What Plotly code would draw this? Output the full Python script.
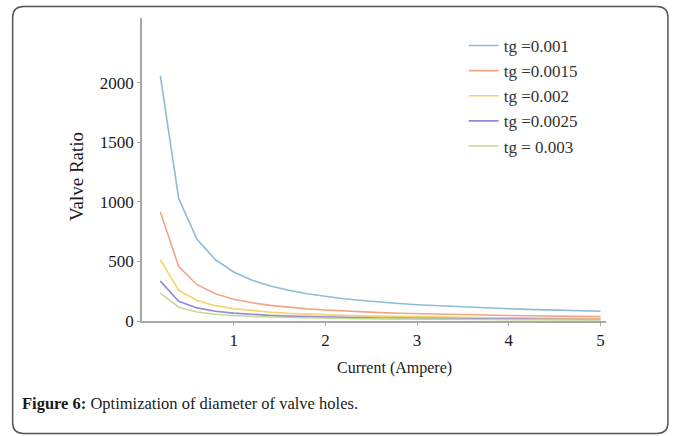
import plotly.graph_objects as go

current = [0.2, 0.4, 0.6, 0.8, 1.0, 1.2, 1.4, 1.6, 1.8, 2.0, 2.2, 2.4, 2.6, 2.8, 3.0,
           3.2, 3.4, 3.6, 3.8, 4.0, 4.2, 4.4, 4.6, 4.8, 5.0]

tg_0010 = [2060, 1030, 687, 515, 412, 343, 294, 258, 229, 206, 187, 172, 158, 147, 137,
           129, 121, 114, 108, 103, 98, 94, 90, 86, 82]
tg_0015 = [915, 458, 305, 229, 183, 153, 131, 114, 102, 92, 83, 76, 70, 65, 61,
           57, 54, 51, 48, 46, 44, 42, 40, 38, 37]
tg_0020 = [515, 258, 172, 129, 103, 86, 74, 64, 57, 52, 47, 43, 40, 37, 34,
           32, 30, 29, 27, 26, 25, 23, 22, 21, 21]
tg_0025 = [335, 166, 110, 82, 66, 55, 47, 41, 37, 33, 30, 27, 25, 24, 22,
           21, 19, 18, 17, 16, 16, 15, 14, 14, 13]
tg_0030 = [235, 116, 76, 57, 46, 38, 33, 29, 25, 23, 21, 19, 18, 16, 15,
           14, 13, 13, 12, 11, 11, 10, 10, 10, 9]

series_names = ["tg =0.001", "tg =0.0015", "tg =0.002", "tg =0.0025", "tg = 0.003"]
series_values = [tg_0010, tg_0015, tg_0020, tg_0025, tg_0030]
series_colors = ["#8ebcd4", "#f2a584", "#f6d36a", "#9588d6", "#c2da92"]

y_ticks = [0, 500, 1000, 1500, 2000]
x_ticks = [1, 2, 3, 4, 5]

SERIF = "Liberation Serif"

fig = go.Figure()
for name, vals, col in zip(series_names, series_values, series_colors):
    fig.add_trace(go.Scatter(x=current, y=vals, mode="lines", name=name,
                             line=dict(color=col, width=1.6)))

# plot area in pixels
W, H = 673, 436
L, R, T, B = 142, 606.5, 18, 321
pw, ph = R - L, B - T


def px(x):
    return (x - L) / pw


def py(y):
    return (B - y) / ph


# rounded border
x0, x1, y0, y1, r = 12.5, 668.5, 6.5, 433.5, 11
path = (f"M {px(x0 + r)} {py(y0)} L {px(x1 - r)} {py(y0)} "
        f"Q {px(x1)} {py(y0)} {px(x1)} {py(y0 + r)} "
        f"L {px(x1)} {py(y1 - r)} Q {px(x1)} {py(y1)} {px(x1 - r)} {py(y1)} "
        f"L {px(x0 + r)} {py(y1)} Q {px(x0)} {py(y1)} {px(x0)} {py(y1 - r)} "
        f"L {px(x0)} {py(y0 + r)} Q {px(x0)} {py(y0)} {px(x0 + r)} {py(y0)} Z")

fig.update_layout(
    width=W, height=H,
    margin=dict(l=L, r=W - R, t=T, b=H - B, pad=0),
    paper_bgcolor="white", plot_bgcolor="white",
    font=dict(family=SERIF, color="#222222"),
    showlegend=True,
    legend=dict(x=px(464), y=py(28), xanchor="left", yanchor="top",
                font=dict(family=SERIF, size=17, color="#333333"),
                bgcolor="rgba(0,0,0,0)", itemwidth=30, tracegroupgap=0),
    xaxis=dict(range=[0, 5.06], tickvals=x_ticks, ticktext=[str(v) for v in x_ticks],
               showgrid=False, zeroline=False, showline=True, linecolor="#a8a8a8",
               linewidth=1.5, ticks="outside", ticklen=3, tickcolor="#a8a8a8",
               tickfont=dict(family=SERIF, size=17, color="#1a1a1a")),
    yaxis=dict(range=[0, 2546], tickvals=y_ticks, ticktext=[str(v) for v in y_ticks],
               showgrid=False, zeroline=False, showline=True, linecolor="#a8a8a8",
               linewidth=1.5, ticks="outside", ticklen=3, tickcolor="#a8a8a8",
               tickfont=dict(family=SERIF, size=17, color="#1a1a1a")),
    shapes=[dict(type="path", xref="paper", yref="paper", path=path,
                 line=dict(color="#555555", width=1.5), fillcolor="rgba(0,0,0,0)",
                 layer="above")],
    annotations=[
        dict(text="Current (Ampere)", xref="paper", yref="paper", x=px(395), y=py(368),
             xanchor="center", yanchor="middle", showarrow=False,
             font=dict(family=SERIF, size=16, color="#1a1a1a")),
        dict(text="Valve Ratio", xref="paper", yref="paper", x=px(76), y=py(177),
             xanchor="center", yanchor="middle", showarrow=False, textangle=-90,
             font=dict(family=SERIF, size=19, color="#1a1a1a")),
        dict(text="<b>Figure 6:</b> Optimization of diameter of valve holes.",
             xref="paper", yref="paper", x=px(20), y=py(403),
             xanchor="left", yanchor="middle", showarrow=False,
             font=dict(family=SERIF, size=16.5, color="#1a1a1a")),
    ],
)

fig.write_html("out.html")
